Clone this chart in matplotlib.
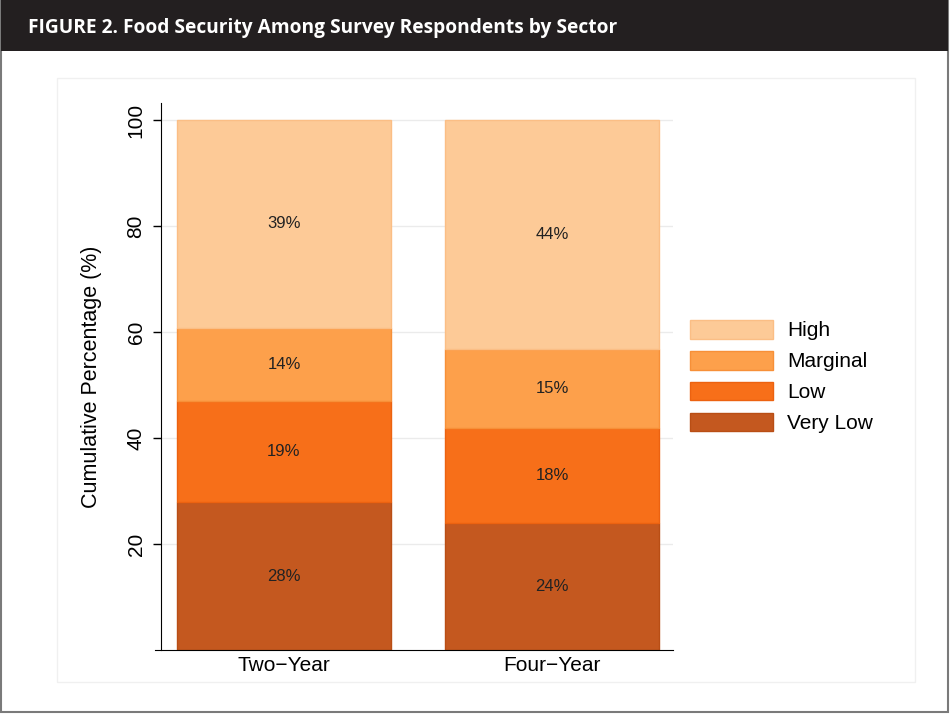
import numpy as np
import matplotlib
matplotlib.use("Agg")
import matplotlib.pyplot as plt
from matplotlib.patches import Rectangle

plt.rcParams['font.family'] = ['Liberation Sans', 'DejaVu Sans']

# ================================ data =====================================
sectors = ["Two\u2212Year", "Four\u2212Year"]
levels = ["Very Low", "Low", "Marginal", "High"]
very_low = [27.9, 24.0]
low = [19.1, 17.9]
marginal = [13.75, 14.9]
high = [39.25, 43.2]
labels_very_low = ["28%", "24%"]
labels_low = ["19%", "18%"]
labels_marginal = ["14%", "15%"]
labels_high = ["39%", "44%"]
yticks = [20, 40, 60, 80, 100]

fills = ["#C4581F", "#F76F19", "#FDA04B", "#FDCA97"]
edges = ["#B94E15", "#EC6210", "#F79038", "#FBBE85"]

# ================================ figure ====================================
fig = plt.figure(figsize=(9.51, 7.14), dpi=100)
W, H = 951.0, 714.0

# outer frame and title bar
fig.patches.append(Rectangle((1 / W, 1 - 712 / H), 947 / W, 711 / H, transform=fig.transFigure,
                             facecolor="white", edgecolor="#7a7a7a", linewidth=1.5, zorder=0))
fig.patches.append(Rectangle((1 / W, 1 - 51 / H), 947 / W, 51 / H, transform=fig.transFigure,
                             facecolor="#231F20", edgecolor="none", zorder=1))
fig.patches.append(Rectangle((57 / W, 1 - 682 / H), 858 / W, 604 / H, transform=fig.transFigure,
                             facecolor="white", edgecolor="#f0f0f0", linewidth=1, zorder=1))
fig.text(28 / W, 1 - 28 / H, "FIGURE 2. Food Security Among Survey Respondents by Sector",
         color="white", fontsize=13.8, fontweight="bold", family="Open Sans",
         va="center", ha="left", zorder=2)

ax = fig.add_axes([155 / W, 1 - 650 / H, (673 - 155) / W, (650 - 103) / H])
ax.set_zorder(3)
ax.patch.set_alpha(0)

# spines first: moving a spine resets the ticks
ax.spines["top"].set_visible(False)
ax.spines["right"].set_visible(False)
ax.spines["left"].set_position(("data", -0.459))

x = np.arange(len(sectors))
series = [very_low, low, marginal, high]
texts = [labels_very_low, labels_low, labels_marginal, labels_high]
bottom = np.zeros(len(sectors))
handles = []
for vals, txt, fc, ec, name in zip(series, texts, fills, edges, levels):
    vals = np.array(vals)
    b = ax.bar(x, vals, width=0.8, bottom=bottom, color=fc, edgecolor=ec,
               linewidth=1, label=name, zorder=2)
    handles.append(b)
    for xi, yi, t in zip(x, bottom + vals / 2, txt):
        ax.text(xi, yi, t, ha="center", va="center", fontsize=12, color="#222222", zorder=3)
    bottom = bottom + vals

ax.set_xlim(-0.481, 1.451)
ax.set_ylim(0, 103.2)
ax.tick_params(axis="x", length=0, pad=4, labelsize=15)
ax.tick_params(axis="y", length=6, width=1, pad=5, labelsize=15, labelrotation=90)
ax.set_yticks(yticks)
ax.set_yticklabels([str(t) for t in yticks], va="center", ha="right")
ax.yaxis.grid(True, color="#ebebeb", linewidth=1)
ax.set_axisbelow(True)
ax.set_xticks(x)
ax.set_xticklabels(sectors)
ax.set_ylabel("Cumulative Percentage (%)", fontsize=15.5, labelpad=18)

leg = fig.legend(handles[::-1], levels[::-1], loc="upper left",
                 bbox_to_anchor=(690 / W, 1 - 320 / H), frameon=False, fontsize=15,
                 handlelength=4.0, handleheight=1.0, handletextpad=0.65,
                 labelspacing=0.5, borderpad=0, borderaxespad=0)

fig.savefig("out.png", dpi=100)
